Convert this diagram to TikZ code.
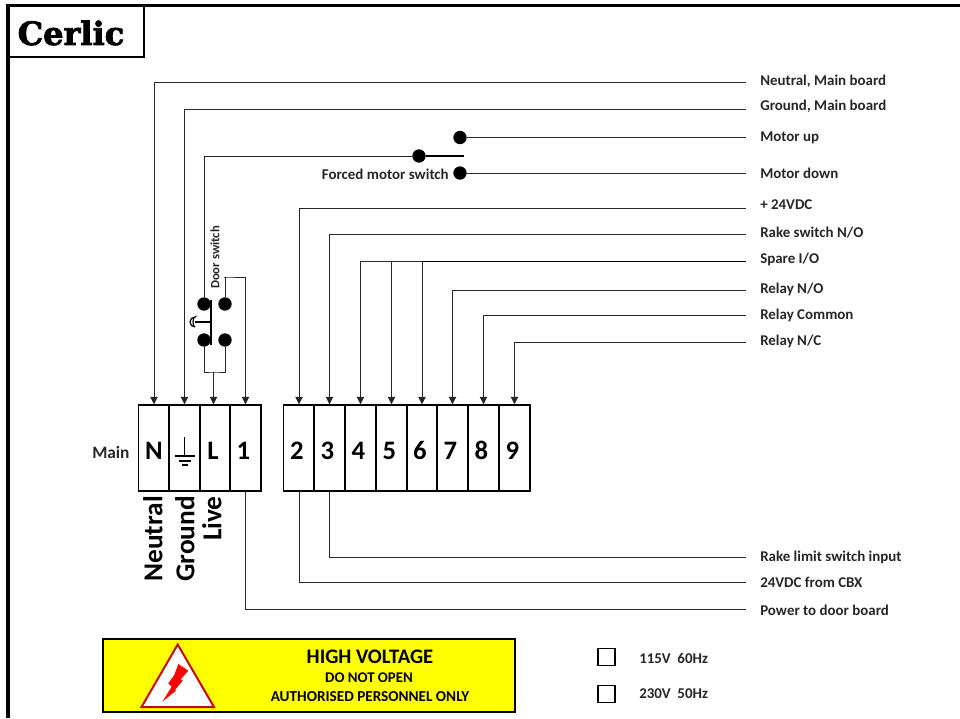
\documentclass[tikz,border=0pt]{standalone}
\usepackage{fontspec}
\setmainfont{Carlito}
\newfontfamily\logofont[BoldFeatures={FakeBold=2.5}]{DejaVu Serif}
\usetikzlibrary{arrows.meta,shapes.geometric,positioning}
\definecolor{warnred}{RGB}{200,10,10}
\definecolor{boltred}{RGB}{255,0,0}
\definecolor{platey}{RGB}{255,255,0}
\newcommand{\tl}[1]{#1\kern3pt}
\tikzset{
  wire/.style={line width=0.7pt,black!85},
  wirearrow/.style={wire,-{Triangle[length=5.5pt,width=5.5pt]}},
  heavywire/.style={line width=1.4pt,black},
  frameline/.style={line width=2.4pt,black},
  lbl/.style={font=\fontsize{11.2}{13}\selectfont\bfseries,text=black!85,anchor=west,inner sep=0pt},
  terminal/.style={draw,line width=1.1pt,minimum width=23pt,minimum height=64.5pt,inner sep=0pt,text height=17.4pt,text depth=0pt,font=\fontsize{20}{22}\selectfont\bfseries},
  sidelbl/.style={font=\fontsize{20.5}{24}\selectfont\bfseries,rotate=90,anchor=east,inner sep=0pt},
  contact/.style={circle,fill=black,minimum size=10pt,inner sep=0pt},
  tickbox/.style={draw,line width=1.1pt,minimum size=12.5pt,inner sep=0pt}
}
\begin{document}
\begin{tikzpicture}[x=0.75pt,y=-0.75pt]
  \useasboundingbox (0,0) rectangle (960,718);
  % frame and logo
  \coordinate (frameTL) at (8,5.5);
  \coordinate (frameTR) at (960,5.5);
  \coordinate (frameBL) at (8,718);
  \draw[frameline] (frameBL) -- (frameTL) -- (frameTR);
  \node[anchor=north west,minimum width=102pt,minimum height=39pt,draw,line width=1.5pt,inner sep=0pt,outer sep=0pt] (logo) at (8,5) {};
  \node[font=\logofont\fontsize{24}{26}\selectfont\bfseries] (logotxt) at (71,33) {Cerlic};

  % terminals
  \node[terminal] (tN) at (154,448) {N};
  \node[terminal] (tG) at (184.5,448) {};
  \node[terminal] (tL) at (215,448) {\tl{L}};
  \node[terminal] (tA) at (245.5,448) {\tl{1}};
  \node[terminal] (t2) at (299,448) {\tl{2}};
  \node[terminal] (t3) at (329.5,448) {\tl{3}};
  \node[terminal] (t4) at (360.5,448) {\tl{4}};
  \node[terminal] (t5) at (391.5,448) {\tl{5}};
  \node[terminal] (t6) at (422,448) {\tl{6}};
  \node[terminal] (t7) at (452.5,448) {\tl{7}};
  \node[terminal] (t8) at (483.5,448) {\tl{8}};
  \node[terminal] (t9) at (514.5,448) {\tl{9}};
  \node[lbl,font=\fontsize{13}{15}\selectfont\bfseries] (main) at (92,452) {Main};
  \draw[line width=0.8pt] (tG.center)+(0,-11) -- +(0,7);
  \draw[line width=0.8pt] (tG.center)+(-10,8) -- +(10,8);
  \draw[line width=0.8pt] (tG.center)+(-6,13) -- +(6,13);
  \draw[line width=0.8pt] (tG.center)+(-3,17) -- +(3,17);
  \node[sidelbl] (sNeutral) at (153,496) {Neutral};
  \node[sidelbl] (sGround) at (185,496) {Ground};
  \node[sidelbl] (sLive) at (212,496) {Live};

  % labels on the right
  \node[lbl] (lNeutral) at (760,81) {Neutral, Main board};
  \node[lbl] (lGround) at (760,106) {Ground, Main board};
  \node[lbl] (lUp) at (760,138) {Motor up};
  \node[lbl] (lDown) at (760,173) {Motor down};
  \node[lbl] (lPlus) at (760,205) {+ 24VDC};
  \node[lbl] (lRake) at (760,233) {Rake switch N/O};
  \node[lbl] (lSpare) at (760,259) {Spare I/O};
  \node[lbl] (lNO) at (760,289) {Relay N/O};
  \node[lbl] (lCom) at (760,315) {Relay Common};
  \node[lbl] (lNC) at (760,341) {Relay N/C};
  \node[lbl] (lLimit) at (760,557) {Rake limit switch input};
  \node[lbl] (lCBX) at (760,582) {24VDC from CBX};
  \node[lbl] (lDoor) at (760,610) {Power to door board};

  \coordinate (eNeutral) at (746,82);
  \coordinate (eGround) at (746,109);
  \coordinate (ePlus) at (746,208);
  \coordinate (eRake) at (746,234);
  \coordinate (eSpare) at (746,261.5);
  \coordinate (eNO) at (746,290);
  \coordinate (eCom) at (746,315.5);
  \coordinate (eNC) at (746,342);
  \coordinate (eLimit) at (746,557);
  \coordinate (eCBX) at (746,582);
  \coordinate (eDoor) at (746,609);
  \coordinate (eUp) at (746,137.5);
  \coordinate (eDown) at (746,173);
  \draw[wirearrow] (eNeutral) -| (tN.north);
  \draw[wirearrow] (eGround) -| (tG.north);
  \draw[wirearrow] (ePlus) -| (t2.north);
  \draw[wirearrow] (eRake) -| (t3.north);
  \draw[wirearrow] (eSpare) -| (t4.north);
  \draw[wirearrow] (eSpare) -| (t5.north);
  \draw[wirearrow] (eSpare) -| (t6.north);
  \draw[heavywire] (eSpare) -- (t6.north |- eSpare);
  \draw[wirearrow] (eNO) -| (t7.north);
  \draw[wirearrow] (eCom) -| (t8.north);
  \draw[wirearrow] (eNC) -| (t9.north);
  \draw[wire] (t3.south) |- (eLimit);
  \draw[wire] (t2.south) |- (eCBX);
  \draw[wire] (tA.south) |- (eDoor);

  % motor switch
  \node[contact] (mCom) at (419,156) {};
  \node[contact] (mUp) at (460,137.5) {};
  \node[contact] (mDown) at (460,173) {};
  \coordinate (mTip) at (464,156);
  \draw[heavywire] (mCom) -- (mTip);
  \draw[wire] (mUp) -- (eUp);
  \draw[wire] (mDown) -- (eDown);
  \node[lbl,anchor=east] (mLbl) at (449,174) {Forced motor switch};

  % door switch
  \node[contact] (dA) at (204,304) {};
  \node[contact] (dB) at (225,304) {};
  \node[contact] (dC) at (204,340) {};
  \node[contact] (dD) at (225,340) {};
  \coordinate (dBarT) at (211,300);
  \coordinate (dBarB) at (211,345);
  \coordinate (dBarM) at (211,322);
  \coordinate (dKnob) at (195,322);
  \coordinate (dJoin) at (213.5,372);
  \coordinate (dTop) at (224,277);
  \draw[heavywire] (dBarT) -- (dBarB);
  \draw[heavywire] (dBarM) -- (dKnob);
  \draw[line width=0.9pt] (195,327) arc[start angle=90,end angle=270,radius=5] arc[start angle=270,end angle=90,x radius=2,y radius=5];
  \draw[wire] (dA) |- (mCom);
  \draw[wirearrow] (dB) |- (dTop) -| (tA.north);
  \draw[wire] (dC) |- (dJoin) -| (dD);
  \draw[wirearrow] (dJoin) -- (dJoin |- tL.north);
  \node[font=\fontsize{9.5}{11}\selectfont\bfseries,rotate=90,text=black!85,inner sep=0pt] (dLbl) at (215,257.5) {Door switch};

  % warning plate
  \node[draw,line width=1.5pt,fill=platey,anchor=north west,minimum width=309pt,minimum height=54.4pt,inner sep=0pt,outer sep=0pt] (plate) at (103,639) {};
  \coordinate (triA) at (177.7,644.5);
  \coordinate (triB) at (141.5,707);
  \coordinate (triC) at (214,707);
  \draw[warnred,line width=1.5pt,fill=white] (triA) -- (triB) -- (triC) -- cycle;
  \fill[boltred] (178.3,664) -- (188.3,670.7) -- (180.7,679.3) -- (182.7,680.7) -- (175,690) -- (176,690.7) -- (162.3,701.7) -- (171.7,686.7) -- (168.3,683.3) -- (174.3,675) -- cycle;
  \node[font=\fontsize{15.5}{17}\selectfont\bfseries] (warnA) at (370,657) {HIGH VOLTAGE};
  \node[font=\fontsize{11.1}{13}\selectfont\bfseries] (warnB) at (369,678) {DO NOT OPEN};
  \node[font=\fontsize{11.4}{13}\selectfont\bfseries] (warnC) at (370,697) {AUTHORISED PERSONNEL ONLY};

  % voltage selection
  \node[tickbox] (box115) at (606.5,657) {};
  \node[tickbox] (box230) at (606.5,694) {};
  \node[lbl] (v115) at (639,658) {115V\hspace{5pt}60Hz};
  \node[lbl] (v230) at (639,694) {230V\hspace{5pt}50Hz};
\end{tikzpicture}
\end{document}
